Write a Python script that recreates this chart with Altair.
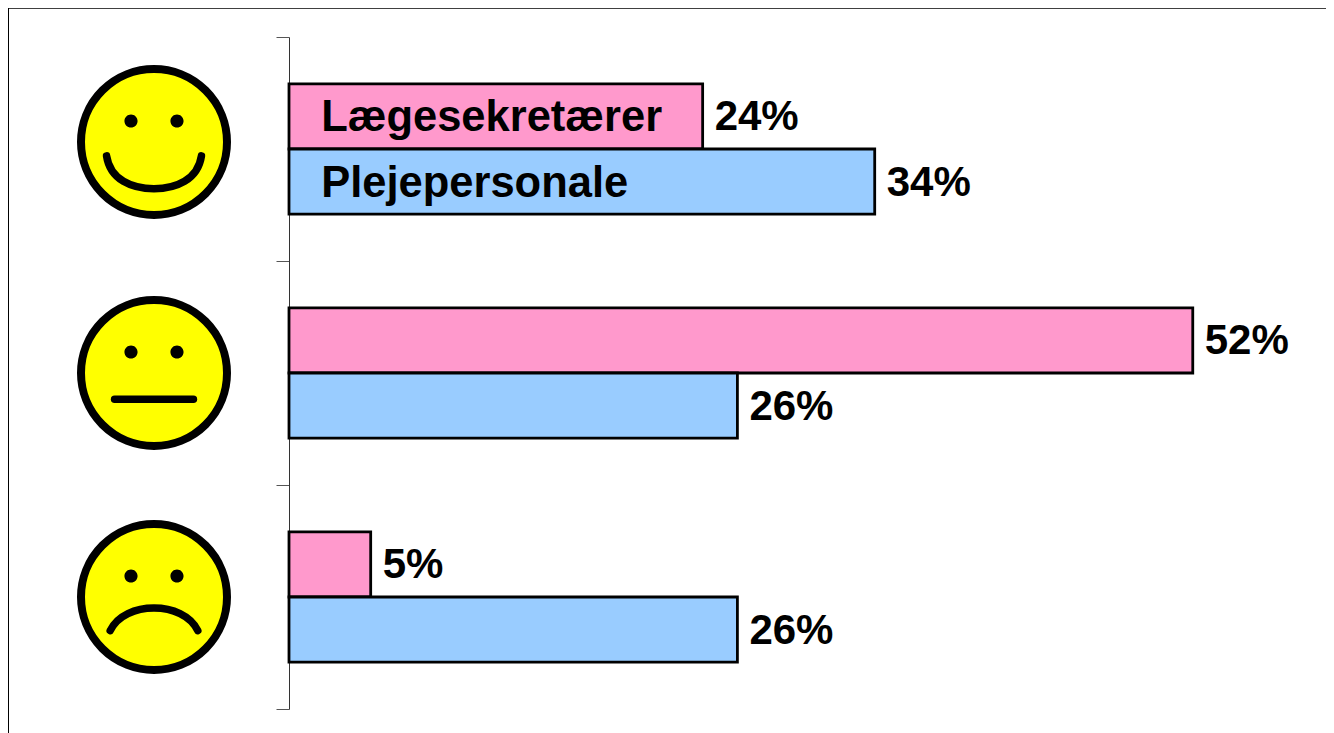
import altair as alt
import pandas as pd

groups = ["Glad", "Neutral", "Sur"]
series = ["Lægesekretærer", "Plejepersonale"]
pink_values = [23.8, 52.0, 4.7]
blue_values = [33.7, 25.8, 25.8]
pink_labels = ["24%", "52%", "5%"]
blue_labels = ["34%", "26%", "26%"]
colors = ["#FF99CC", "#99CCFF"]

W, H = 1318, 725
ZERO = 281.0      # pixel of value 0 inside the plot
PX = 17.38        # pixels per percentage point
FACE_X = (154 - 289) / PX
LABEL_X = 1.85

rows = []
for i, g in enumerate(groups):
    rows.append(dict(group=g, series=series[0], value=pink_values[i], label=pink_labels[i]))
    rows.append(dict(group=g, series=series[1], value=blue_values[i], label=blue_labels[i]))
df = pd.DataFrame(rows)

names = pd.DataFrame({
    "group": [groups[0], groups[0]],
    "series": series,
    "x": [LABEL_X, LABEL_X],
    "name": series,
})

x_scale = alt.Scale(domain=[-ZERO / PX, (W - ZERO) / PX], nice=False, zero=False)
y_scale = alt.Scale(domain=groups, range=[29, 701], paddingInner=0, paddingOuter=0)
off_scale = alt.Scale(domain=series, paddingInner=0, paddingOuter=0.72)

x = alt.X("value:Q", scale=x_scale, axis=None)
y = alt.Y(
    "group:N",
    scale=y_scale,
    title=None,
    axis=alt.Axis(
        orient="left", offset=-ZERO, labels=False, title=None, grid=False,
        tickBand="extent", tickSize=13, tickColor="#555555", tickWidth=1,
        domainColor="#333333", domainWidth=1,
    ),
)
yoff = alt.YOffset("series:N", scale=off_scale)

bar_shift = [-1.5, 0, -0.7]
bar_layers = [
    alt.Chart(df[df["group"] == g]).mark_bar(
        stroke="black", strokeWidth=2.8, clip=False, yOffset=s
    ).encode(
        x=x,
        x2=alt.datum(0),
        y=y,
        yOffset=yoff,
        fill=alt.Color("series:N", scale=alt.Scale(domain=series, range=colors), legend=None),
    )
    for g, s in zip(groups, bar_shift)
]

value_text = alt.Chart(df).mark_text(
    align="left", baseline="middle", dx=12, dy=1, font="Liberation Sans",
    fontWeight="bold", fontSize=42, color="black",
).encode(x=x, y=y, yOffset=yoff, text="label:N")

name_text = alt.Chart(names).mark_text(
    align="left", baseline="middle", dy=2, font="Liberation Sans",
    fontWeight="bold", fontSize=43.5, color="black",
).encode(
    x=alt.X("x:Q", scale=x_scale, axis=None),
    y=y,
    yOffset=yoff,
    text="name:N",
)

SMILE = "M-0.65,0.19 C-0.6,0.52 -0.3,0.64 0,0.64 C0.3,0.64 0.6,0.52 0.65,0.19"
FLAT = "M-0.54,0.36 L0.54,0.36"
FROWN = "M-0.6,0.46 C-0.5,0.25 -0.25,0.15 0,0.15 C0.25,0.15 0.5,0.25 0.6,0.46"
EYES = (
    "M-0.405,-0.288 A0.09,0.09 0 1 1 -0.225,-0.288 A0.09,0.09 0 1 1 -0.405,-0.288 Z "
    "M0.225,-0.288 A0.09,0.09 0 1 1 0.405,-0.288 A0.09,0.09 0 1 1 0.225,-0.288 Z"
)
mouths = [SMILE, FLAT, FROWN]
face_dy = [-7, 0, 0]
FACE_SIZE = 146 ** 2


def face(group, mouth, dy):
    base = alt.Chart(pd.DataFrame({"group": [group], "x": [FACE_X]})).encode(
        x=alt.X("x:Q", scale=x_scale, axis=None), y=y
    )
    head = base.mark_point(
        shape="circle", size=FACE_SIZE, filled=True, fill="#FFFF00", stroke="black",
        strokeWidth=8, opacity=1, yOffset=dy,
    )
    eyes = base.mark_point(
        shape=EYES, size=FACE_SIZE, filled=True, fill="black",
        strokeWidth=0, opacity=1, yOffset=dy,
    )
    lip = base.mark_point(
        shape=mouth, size=FACE_SIZE, filled=False, stroke="black", strokeWidth=7.5,
        strokeCap="round", opacity=1, yOffset=dy,
    )
    return [head, eyes, lip]


face_layers = []
for g, m, d in zip(groups, mouths, face_dy):
    face_layers += face(g, m, d)

seed = alt.Chart(pd.DataFrame({"a": [0]}))
frame_top = seed.mark_rule(color="black", strokeWidth=1.5).encode(
    x=alt.value(0), x2=alt.value(W), y=alt.value(0)
)
frame_left = seed.mark_rule(color="black", strokeWidth=1).encode(
    x=alt.value(0.5), y=alt.value(0), y2=alt.value(H)
)

chart = (
    alt.layer(*bar_layers, value_text, name_text, *face_layers, frame_top, frame_left)
    .properties(width=W, height=H, padding=0, autosize=alt.AutoSizeParams(type="none"), background="white")
    .configure_view(stroke=None)
)

chart.save("out.html", embed_options={"renderer": "svg", "actions": False})
